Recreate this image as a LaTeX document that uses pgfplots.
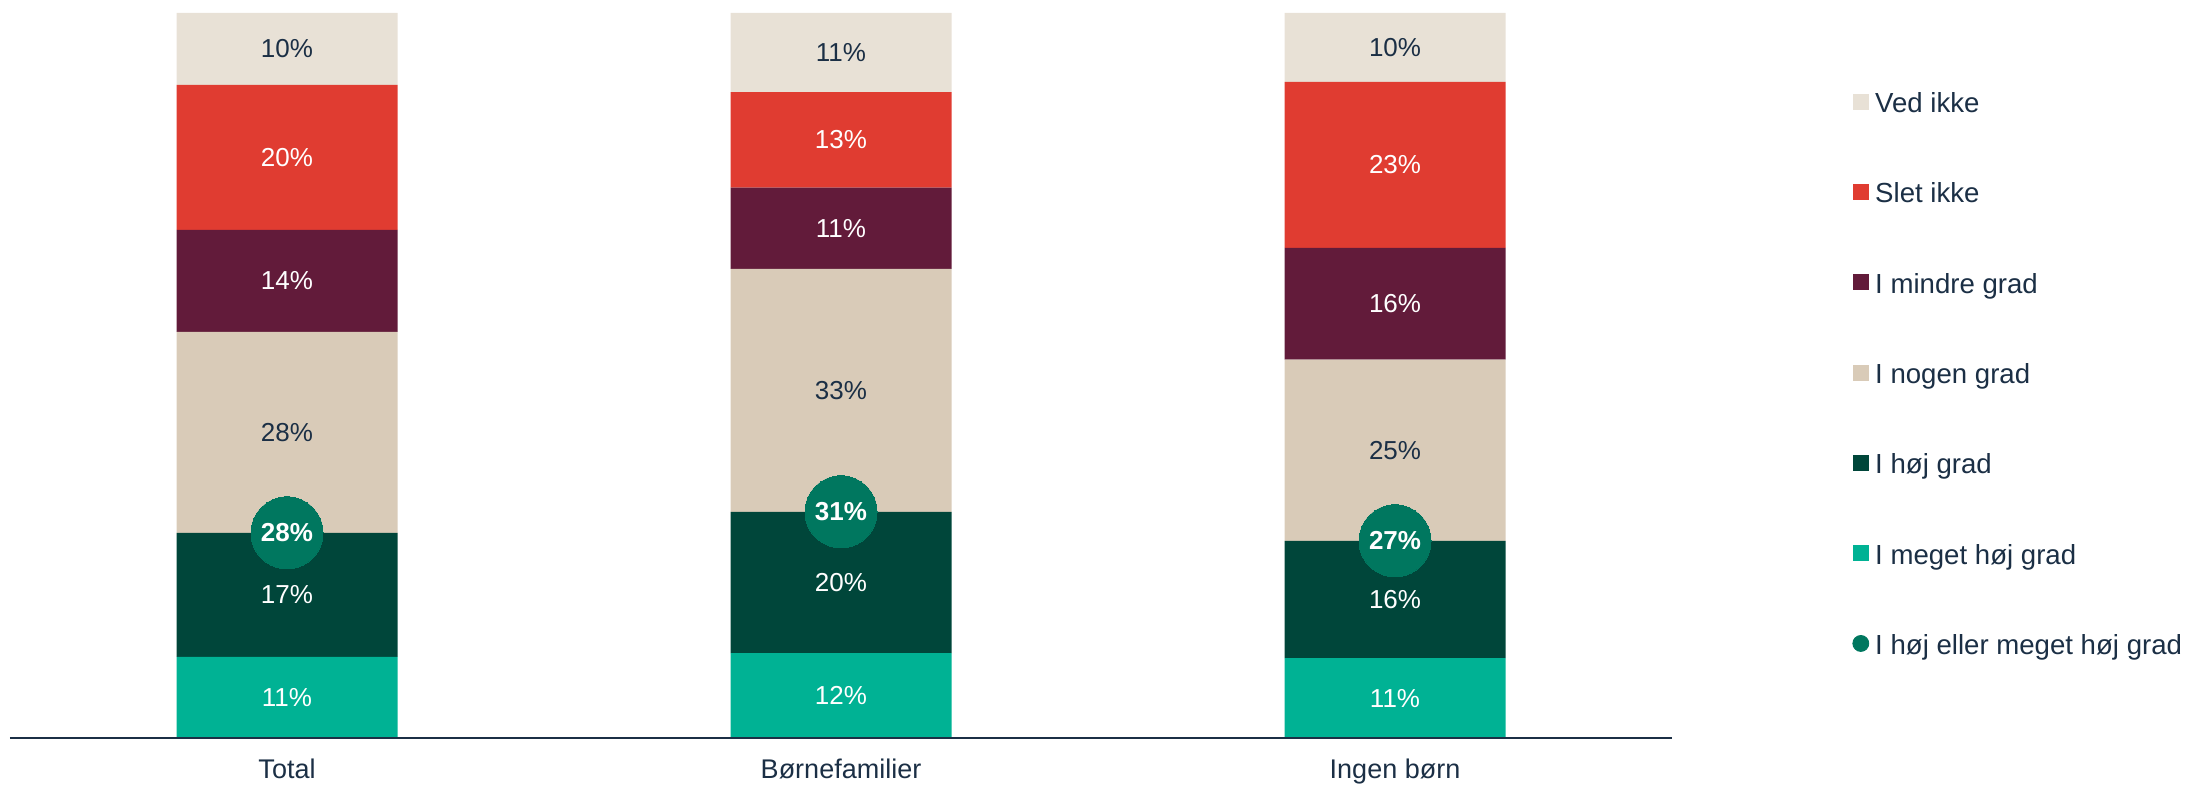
\documentclass[border=0pt]{standalone}
\usepackage{fontspec}
\setmainfont{Liberation Sans}
\usepackage{pgfplots}
\usepackage{pgfplotstable}
\pgfplotsset{compat=1.18}
\definecolor{cVed}{HTML}{E8E1D6}
\definecolor{cSlet}{HTML}{E03C31}
\definecolor{cMin}{HTML}{621B3A}
\definecolor{cNog}{HTML}{D9CBB8}
\definecolor{cHoj}{HTML}{00463A}
\definecolor{cMeg}{HTML}{00B294}
\definecolor{cCirc}{HTML}{00775F}
\definecolor{cText}{HTML}{1B2F45}

\pgfplotstableread{
x meget hoj nogen mindre slet ved
0 11.2 17.1 27.7 14.1 20.0 9.9
1 11.7 19.5 33.5 11.2 13.2 10.9
2 11.0 16.2 25.0 15.4 22.9 9.5
}\bars

\pgfplotstableread{
x y label
0 5.6 11\%
1 5.85 12\%
2 5.5 11\%
0 19.75 17\%
1 21.45 20\%
2 19.1 16\%
0 63.05 14\%
1 70.3 11\%
2 59.9 16\%
0 80.1 20\%
1 82.5 13\%
2 79.05 23\%
}\whitelabels

\pgfplotstableread{
x y label
0 42.15 28\%
1 47.95 33\%
2 39.7 25\%
0 95.05 10\%
1 94.55 11\%
2 95.25 10\%
}\darklabels

\pgfplotstableread{
x y label
0 28.3 28\%
1 31.2 31\%
2 27.2 27\%
}\circles

\begin{document}
\begin{tikzpicture}
\pgfplotsset{
  base/.style={
    scale only axis, width=831pt, height=362.5pt,
    at={(0,0)}, anchor=south west,
    xmin=-0.5, xmax=2.5, ymin=0, ymax=100,
  }
}
\begin{axis}[base,
  ybar stacked, bar width=110.5pt,
  axis y line=none, axis x line=bottom,
  x axis line style={-, draw=cText, line width=1pt},
  xtick={0,1,2}, xticklabels={Total, Børnefamilier, Ingen børn},
  major tick length=0pt,
  xticklabel style={font=\fontsize{13.5}{15}\selectfont, text=cText, inner sep=0pt, anchor=north, text height=9.67pt, text depth=3pt, yshift=-10.5pt},
  axis on top,
]
\addplot[fill=cMeg, draw=none] table[x=x, y=meget] {\bars};
\addplot[fill=cHoj, draw=none] table[x=x, y=hoj] {\bars};
\addplot[fill=cNog, draw=none] table[x=x, y=nogen] {\bars};
\addplot[fill=cMin, draw=none] table[x=x, y=mindre] {\bars};
\addplot[fill=cSlet, draw=none] table[x=x, y=slet] {\bars};
\addplot[fill=cVed, draw=none] table[x=x, y=ved] {\bars};
\end{axis}

\begin{axis}[base, hide axis, clip=false,
  legend style={at={(1.1083,0.8908)}, anchor=north west, draw=none, fill=none,
    inner sep=0pt, row sep=32.15pt,
    nodes={inner sep=0pt, text height=10pt, text depth=3pt, font=\fontsize{13.8}{15}\selectfont, text=cText},
    /tikz/every odd column/.append style={column sep=3pt}},
  legend cell align=left,
]
\addlegendimage{legend image code/.code={\fill[cVed] (0pt,-1.8pt) rectangle (7.5pt,5.7pt);}}
\addlegendentry{Ved ikke}
\addlegendimage{legend image code/.code={\fill[cSlet] (0pt,-1.8pt) rectangle (7.5pt,5.7pt);}}
\addlegendentry{Slet ikke}
\addlegendimage{legend image code/.code={\fill[cMin] (0pt,-1.8pt) rectangle (7.5pt,5.7pt);}}
\addlegendentry{I mindre grad}
\addlegendimage{legend image code/.code={\fill[cNog] (0pt,-1.8pt) rectangle (7.5pt,5.7pt);}}
\addlegendentry{I nogen grad}
\addlegendimage{legend image code/.code={\fill[cHoj] (0pt,-1.8pt) rectangle (7.5pt,5.7pt);}}
\addlegendentry{I høj grad}
\addlegendimage{legend image code/.code={\fill[cMeg] (0pt,-1.8pt) rectangle (7.5pt,5.7pt);}}
\addlegendentry{I meget høj grad}
\addlegendimage{legend image code/.code={\fill[cCirc] (3.75pt,1.95pt) circle (4pt);}}
\addlegendentry{I høj eller meget høj grad}

\addplot[draw=none, forget plot, nodes near coords, point meta=explicit symbolic,
  every node near coord/.style={anchor=center, text=white, font=\fontsize{13}{15}\selectfont}]
  table[x=x, y=y, meta=label] {\whitelabels};
\addplot[draw=none, forget plot, nodes near coords, point meta=explicit symbolic,
  every node near coord/.style={anchor=center, text=cText, font=\fontsize{13}{15}\selectfont}]
  table[x=x, y=y, meta=label] {\darklabels};
\addplot[only marks, forget plot, mark=*, mark size=18pt, color=cCirc, mark options={fill=cCirc, draw=cCirc, line width=0pt},
  nodes near coords, point meta=explicit symbolic,
  every node near coord/.style={anchor=center, text=white, font=\fontsize{13}{15}\selectfont\bfseries}]
  table[x=x, y=y, meta=label] {\circles};
\end{axis}
\pgfresetboundingbox
\path (-5pt,-23.5pt) rectangle (1088.5pt,369pt);
\end{tikzpicture}
\end{document}
